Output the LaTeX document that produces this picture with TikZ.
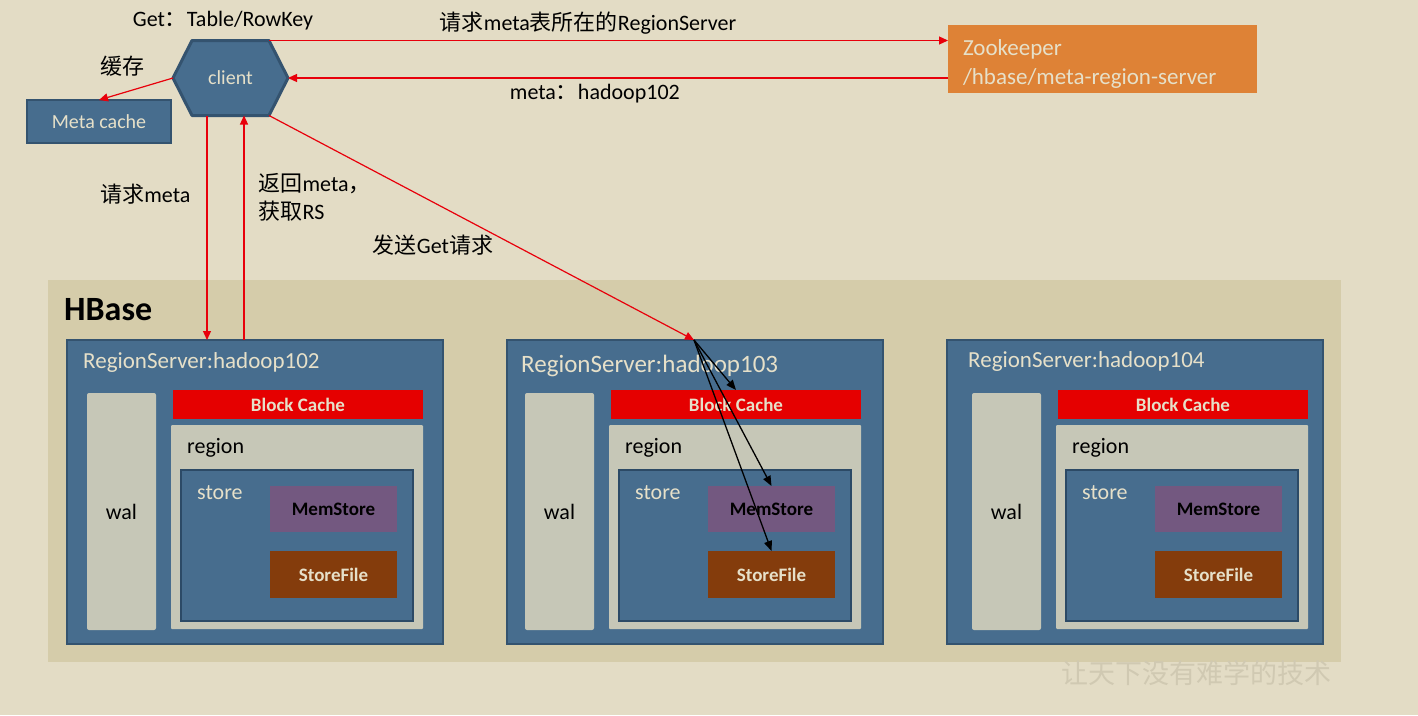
\documentclass[tikz,border=0pt]{standalone}
\usepackage{fontspec}
\setmainfont{Carlito}
\newfontfamily\cjk{Noto Sans CJK SC}
\usetikzlibrary{arrows.meta}

\definecolor{pagebg}{HTML}{E3DCC5}
\definecolor{hbasebg}{HTML}{D5CCAA}
\definecolor{rsblue}{HTML}{476D8E}
\definecolor{rsedge}{HTML}{34536F}
\definecolor{stedge}{HTML}{2C4A66}
\definecolor{walgray}{HTML}{C6C7B7}
\definecolor{bcred}{HTML}{E50000}
\definecolor{memviolet}{HTML}{735880}
\definecolor{sfbrown}{HTML}{843C0C}
\definecolor{zkorange}{HTML}{DE8236}
\definecolor{litetext}{HTML}{E6E0C9}
\definecolor{arrowred}{HTML}{E8000B}
\definecolor{wmark}{HTML}{D0C9B2}

\newcommand{\fsz}[1]{\fontsize{#1pt}{1.27\dimexpr#1pt\relax}\selectfont}

\begin{document}
\begin{tikzpicture}[x=1pt, y=-1pt,
  sz/.style 2 args={minimum width=#1pt, minimum height=#2pt, inner sep=0pt, outer sep=0pt},
  bluebox/.style={fill=rsblue, draw=rsedge, line width=2.5pt},
  lbl/.style={font=\fsz{22}, text=black, inner sep=2pt},
  lite/.style={text=litetext},
  redarrow/.style={draw=arrowred, line width=1.2pt, -{Triangle[length=9pt, width=8pt]}},
  blkarrow/.style={draw=black, line width=1.3pt, -{Triangle[length=10pt, width=8pt]}}]

  %% page and HBase panel
  \useasboundingbox (0,0) rectangle (1418,715);
  \fill[pagebg] (0,0) rectangle (1418,715);
  \fill[hbasebg] (48,280) rectangle (1341,662);
  \node[anchor=west, font=\fsz{34}\bfseries, inner sep=0pt] (hbase) at (64,310) {HBase};

  %% region servers
  \foreach \n/\bx/\dx/\host/\tsz/\ty in {1/0/0/102/23/362, 2/440/438/103/25/366, 3/880/885/104/23/361} {
    \node[bluebox, sz={376}{304}] (rs\n) at (255+\bx,492) {};
    \begin{scope}[xshift=\dx pt]
      \node[anchor=west, lite, font=\fsz{\tsz}, inner sep=0pt] (rst\n) at (83,\ty) {RegionServer:hadoop\host};
      % wal column
      \node[fill=walgray, rounded corners=2pt, sz={69}{237}, font=\fsz{22}] (wal\n) at (121.5,511.5) {wal};
      % block cache
      \node[fill=bcred, sz={250}{29}, lite, font=\fsz{19}\bfseries] (bc\n) at (298,404.5) {Block Cache};
      % region with its store
      \node[fill=walgray, rounded corners=1pt, sz={252}{204}] (reg\n) at (297,527) {};
      \node[anchor=west, font=\fsz{22}, inner sep=0pt] (regt\n) at (187,448) {region};
      \node[fill=rsblue, draw=stedge, line width=2.5pt, sz={232}{151}] (st\n) at (297,545.5) {};
      \node[anchor=west, lite, font=\fsz{22}, inner sep=0pt] (stt\n) at (197,493) {store};
      \node[fill=memviolet, sz={127}{46}, font=\fsz{19}\bfseries] (mem\n) at (333.5,509) {MemStore};
      \node[fill=sfbrown, sz={127}{47}, lite, font=\fsz{19}\bfseries] (sf\n) at (333.5,574.5) {StoreFile};
    \end{scope}
  }

  %% client, cache and zookeeper
  \filldraw[fill=rsblue, draw=rsedge, line width=3pt, line join=round]
    (173,78) -- (192,40.5) -- (269,40.5) -- (288,78) -- (269,115.5) -- (192,115.5) -- cycle;
  \node[sz={115}{75}, lite, font=\fsz{20}] (client) at (230.5,78) {client};
  \node[bluebox, sz={144}{43}, lite, font=\fsz{20}] (meta) at (99,121.5) {Meta cache};
  \node[fill=zkorange, sz={309}{68}, inner xsep=15pt, text width=279pt, align=left,
        lite, font=\fsz{23}] (zk) at (1102.5,59) {\rule{0pt}{26pt}Zookeeper\\/hbase/meta-region-server};

  \node[lbl] (getkey) at (223,21) {Get{\cjk ：}Table/RowKey};

  %% lookup of meta
  \coordinate (cne) at ([xshift=-19pt]client.north east);
  \draw[redarrow] (cne) -- node[lbl, pos=0.47, above=4pt] {{\cjk 请求}meta{\cjk 表所在的}RegionServer} (cne -| zk.west);
  \draw[redarrow] (client.east -| zk.west) -- node[lbl, pos=0.535, below=4pt] {meta{\cjk ：}hadoop102} (client.east);

  \draw[redarrow] (client.west) -- (meta.north);
  \node[lbl] (cache) at (122,66) {\cjk 缓存};

  \coordinate (cs1) at ([xshift=-23.5pt]client.south);
  \draw[redarrow] (cs1) -- node[lbl, pos=0.35, left=14pt] {{\cjk 请求}meta} (cs1 |- rs1.north);
  \coordinate (cs2) at ([xshift=13.5pt]client.south);
  \draw[redarrow] (cs2 |- rs1.north) -- node[lbl, pos=0.637, right=12pt, align=left] {{\cjk 返回}meta{\cjk ，}\\{\cjk 获取}RS} (cs2);

  %% get request
  \coordinate (cse) at ([xshift=-19pt]client.south east);
  \coordinate (hit) at ([xshift=187pt]rs2.north west);
  \draw[redarrow] (cse) -- (hit);
  \node[lbl] (getreq) at (433,245) {{\cjk 发送}Get{\cjk 请求}};
  \foreach \t in {bc2, mem2, sf2}
    \draw[blkarrow] (hit) -- (\t.north);

  % watermark
  \node[text=wmark, font=\cjk\fsz{27}] (wm) at (1196,673) {让天下没有难学的技术};
\end{tikzpicture}
\end{document}
